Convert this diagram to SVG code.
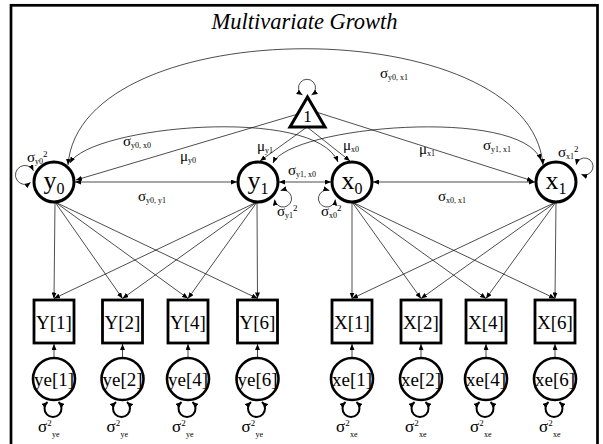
<svg xmlns="http://www.w3.org/2000/svg" width="603" height="444" viewBox="0 0 603 444">
<style>
text{font-family:"Liberation Serif","Times New Roman",serif;fill:#000}
.title{font-size:22.5px;font-style:italic}
.nl{font-size:26px}
.nls{font-size:16px}
.ml{font-size:19px}
.g{font-size:15px}
.gb{font-size:17px}
.s{font-size:8px}
.sp{font-size:9px}
.lat{fill:#fff;stroke:#000;stroke-width:3}
.box{fill:#fff;stroke:#000;stroke-width:2.8}
.err{fill:#fff;stroke:#000;stroke-width:2.6}
.c{fill:none;stroke:#000;stroke-width:0.7;marker-end:url(#ah)}
.d{marker-start:url(#ah)}
.el{fill:none;stroke:#000;stroke-width:2;marker-start:url(#ah);marker-end:url(#ah)}
</style>
<defs>
<marker id="ah" viewBox="0 0 6 5" refX="6" refY="2.5" markerWidth="6" markerHeight="5" markerUnits="userSpaceOnUse" orient="auto-start-reverse"><path d="M0,0 L6,2.5 L0,5 z" fill="#000"/></marker>
</defs>
<rect x="0" y="0" width="603" height="444" fill="#fff"/>
<rect x="11" y="5.3" width="586.5" height="460" fill="none" stroke="#000" stroke-width="2.7"/>
<text class="title" x="304.5" y="29" text-anchor="middle">Multivariate Growth</text>

<g id="one">
<polygon points="307.5,97 325,127 290,127" fill="#fff" stroke="#000" stroke-width="3" stroke-linejoin="miter"/>
<text x="307.5" y="121.5" font-size="17" text-anchor="middle">1</text>
</g>
<g id="y0"><circle class="lat" cx="54" cy="182" r="20"/><text class="nl" x="54" y="189" text-anchor="middle">y<tspan class="nls" dy="5">0</tspan></text></g>
<g id="y1"><circle class="lat" cx="258" cy="182" r="20"/><text class="nl" x="258" y="189" text-anchor="middle">y<tspan class="nls" dy="5">1</tspan></text></g>
<g id="x0"><circle class="lat" cx="352" cy="182" r="20"/><text class="nl" x="352" y="189" text-anchor="middle">x<tspan class="nls" dy="5">0</tspan></text></g>
<g id="x1"><circle class="lat" cx="556" cy="182" r="20"/><text class="nl" x="556" y="189" text-anchor="middle">x<tspan class="nls" dy="5">1</tspan></text></g>

<g id="Y1"><rect class="box" x="34" y="300" width="40" height="43"/><text class="ml" x="54" y="329" text-anchor="middle">Y[1]</text></g>
<g id="Y2"><rect class="box" x="102.5" y="300" width="40" height="43"/><text class="ml" x="122.5" y="329" text-anchor="middle">Y[2]</text></g>
<g id="Y4"><rect class="box" x="168" y="300" width="40" height="43"/><text class="ml" x="188" y="329" text-anchor="middle">Y[4]</text></g>
<g id="Y6"><rect class="box" x="237.5" y="300" width="40" height="43"/><text class="ml" x="257.5" y="329" text-anchor="middle">Y[6]</text></g>
<g id="X1"><rect class="box" x="332" y="300" width="40" height="43"/><text class="ml" x="352" y="329" text-anchor="middle">X[1]</text></g>
<g id="X2"><rect class="box" x="401" y="300" width="40" height="43"/><text class="ml" x="421" y="329" text-anchor="middle">X[2]</text></g>
<g id="X4"><rect class="box" x="466" y="300" width="40" height="43"/><text class="ml" x="486" y="329" text-anchor="middle">X[4]</text></g>
<g id="X6"><rect class="box" x="535" y="300" width="40" height="43"/><text class="ml" x="555" y="329" text-anchor="middle">X[6]</text></g>

<g id="ye1"><circle class="err" cx="54" cy="379" r="21"/><text class="ml" x="54" y="386" text-anchor="middle">ye[1]</text></g>
<g id="ye2"><circle class="err" cx="122.5" cy="379" r="21"/><text class="ml" x="122.5" y="386" text-anchor="middle">ye[2]</text></g>
<g id="ye4"><circle class="err" cx="188" cy="379" r="21"/><text class="ml" x="188" y="386" text-anchor="middle">ye[4]</text></g>
<g id="ye6"><circle class="err" cx="257.5" cy="379" r="21"/><text class="ml" x="257.5" y="386" text-anchor="middle">ye[6]</text></g>
<g id="xe1"><circle class="err" cx="352" cy="379" r="21"/><text class="ml" x="352" y="386" text-anchor="middle">xe[1]</text></g>
<g id="xe2"><circle class="err" cx="421" cy="379" r="21"/><text class="ml" x="421" y="386" text-anchor="middle">xe[2]</text></g>
<g id="xe4"><circle class="err" cx="486" cy="379" r="21"/><text class="ml" x="486" y="386" text-anchor="middle">xe[4]</text></g>
<g id="xe6"><circle class="err" cx="555" cy="379" r="21"/><text class="ml" x="555" y="386" text-anchor="middle">xe[6]</text></g>

<g id="connectors">
<!-- covariances -->
<path class="c d" d="M68,165 C80,10 530,10 543,165"/>
<path class="c d" d="M70,163 C90,126 315,105 338,162"/>
<path class="c d" d="M273,163 C290,126 520,106 541,160"/>
<path class="c d" d="M75,182 L237,182"/>
<path class="c d" d="M279,182 L331,182"/>
<path class="c d" d="M373,182 L535,182"/>
<!-- means -->
<path class="c" d="M298,114 L76,180"/>
<path class="c" d="M316,112 L533,181"/>
<path class="c" d="M307,127 L260,161"/>
<path class="c" d="M307,127 L350,161"/>
<!-- variances -->
<path class="c d" d="M302.5,95 A8.5,8.5 0 1 1 311.5,95"/>
<path class="c d" d="M33.5,170.8 A9.5,9.5 0 1 0 30.6,182.6"/>
<path class="c d" d="M280.6,190.4 A8.5,8.5 0 1 1 274.6,199.5"/>
<path class="c d" d="M329.4,190.4 A8.5,8.5 0 1 0 335.4,199.5"/>
<path class="c d" d="M576.2,164.8 A8.5,8.5 0 1 1 581.4,174.4"/>
<!-- loadings y -->
<path class="c" d="M55,202 L54,298.5"/>
<path class="c" d="M55,202 L122.5,298.5"/>
<path class="c" d="M55,202 L188,298.5"/>
<path class="c" d="M55,202 L257.5,298.5"/>
<path class="c" d="M257,202 L54,298.5"/>
<path class="c" d="M257,202 L122.5,298.5"/>
<path class="c" d="M257,202 L188,298.5"/>
<path class="c" d="M257,202 L257.5,298.5"/>
<!-- loadings x -->
<path class="c" d="M352,202 L352,298.5"/>
<path class="c" d="M352,202 L421,298.5"/>
<path class="c" d="M352,202 L486,298.5"/>
<path class="c" d="M352,202 L555,298.5"/>
<path class="c" d="M556,202 L352,298.5"/>
<path class="c" d="M556,202 L421,298.5"/>
<path class="c" d="M556,202 L486,298.5"/>
<path class="c" d="M556,202 L555,298.5"/>
<!-- residual arrows -->
<path class="c" d="M54,358 L54,344"/>
<path class="c" d="M122.5,358 L122.5,344"/>
<path class="c" d="M188,358 L188,344"/>
<path class="c" d="M257.5,358 L257.5,344"/>
<path class="c" d="M352,358 L352,344"/>
<path class="c" d="M421,358 L421,344"/>
<path class="c" d="M486,358 L486,344"/>
<path class="c" d="M555,358 L555,344"/>
<!-- residual variance loops -->
<path class="el" d="M47.5,402 A8.5,8.5 0 1 0 58.5,402"/>
<path class="el" d="M116,402 A8.5,8.5 0 1 0 127,402"/>
<path class="el" d="M181.5,402 A8.5,8.5 0 1 0 192.5,402"/>
<path class="el" d="M251,402 A8.5,8.5 0 1 0 262,402"/>
<path class="el" d="M345.5,402 A8.5,8.5 0 1 0 356.5,402"/>
<path class="el" d="M414.5,402 A8.5,8.5 0 1 0 425.5,402"/>
<path class="el" d="M479.5,402 A8.5,8.5 0 1 0 490.5,402"/>
<path class="el" d="M548.5,402 A8.5,8.5 0 1 0 559.5,402"/>
<!-- labels -->
<text class="g" x="380" y="78">σ<tspan class="s" dy="2">y0, x1</tspan></text>
<text class="g" x="123" y="146">σ<tspan class="s" dy="2">y0, x0</tspan></text>
<text class="g" x="483" y="150">σ<tspan class="s" dy="2">y1, x1</tspan></text>
<text class="g" x="288" y="175">σ<tspan class="s" dy="2">y1, x0</tspan></text>
<text class="g" x="138" y="201">σ<tspan class="s" dy="2">y0, y1</tspan></text>
<text class="g" x="438" y="201">σ<tspan class="s" dy="2">x0, x1</tspan></text>
<text class="g" x="180" y="161">μ<tspan class="s" dy="2">y0</tspan></text>
<text class="g" x="257" y="151">μ<tspan class="s" dy="2">y1</tspan></text>
<text class="g" x="343" y="150">μ<tspan class="s" dy="2">x0</tspan></text>
<text class="g" x="419" y="154">μ<tspan class="s" dy="2">x1</tspan></text>
<text class="g" x="27" y="162">σ<tspan class="s" dy="2">y0</tspan><tspan class="sp" dy="-7">2</tspan></text>
<text class="g" x="277" y="216">σ<tspan class="s" dy="2">y1</tspan><tspan class="sp" dy="-7">2</tspan></text>
<text class="g" x="321" y="216">σ<tspan class="s" dy="2">x0</tspan><tspan class="sp" dy="-7">2</tspan></text>
<text class="g" x="558" y="157">σ<tspan class="s" dy="2">x1</tspan><tspan class="sp" dy="-7">2</tspan></text>
<text class="gb" x="38" y="432">σ<tspan class="sp" dy="-6">2</tspan><tspan class="s" x="52" dy="11">ye</tspan></text>
<text class="gb" x="106.5" y="432">σ<tspan class="sp" dy="-6">2</tspan><tspan class="s" x="120.5" dy="11">ye</tspan></text>
<text class="gb" x="172" y="432">σ<tspan class="sp" dy="-6">2</tspan><tspan class="s" x="186" dy="11">ye</tspan></text>
<text class="gb" x="241.5" y="432">σ<tspan class="sp" dy="-6">2</tspan><tspan class="s" x="255.5" dy="11">ye</tspan></text>
<text class="gb" x="336" y="432">σ<tspan class="sp" dy="-6">2</tspan><tspan class="s" x="350" dy="11">xe</tspan></text>
<text class="gb" x="405" y="432">σ<tspan class="sp" dy="-6">2</tspan><tspan class="s" x="419" dy="11">xe</tspan></text>
<text class="gb" x="470" y="432">σ<tspan class="sp" dy="-6">2</tspan><tspan class="s" x="484" dy="11">xe</tspan></text>
<text class="gb" x="539" y="432">σ<tspan class="sp" dy="-6">2</tspan><tspan class="s" x="553" dy="11">xe</tspan></text>
</g>
</svg>
